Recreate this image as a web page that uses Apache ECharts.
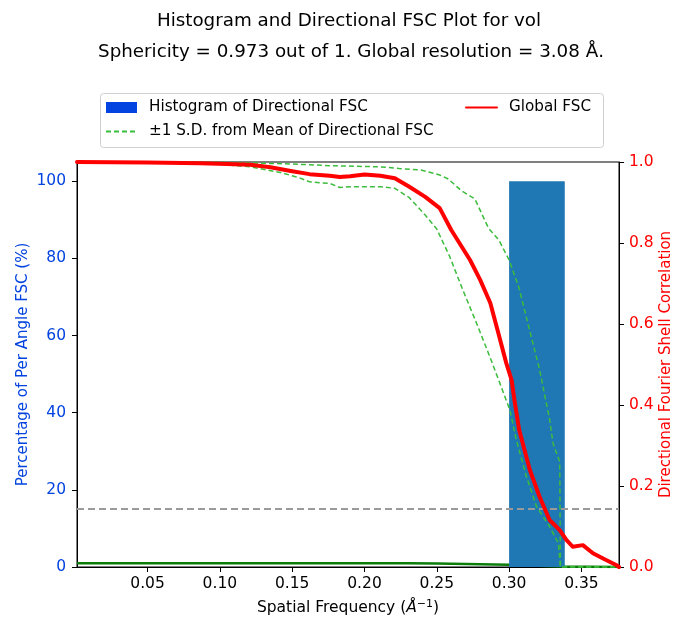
<!DOCTYPE html>
<html><head><meta charset="utf-8">
<script src="https://cdn.jsdelivr.net/npm/echarts@6/dist/echarts.min.js"></script>
<style>html,body{margin:0;padding:0;background:#fff}#c{width:673px;height:621px}</style>
</head><body><div id="c"></div>
<script>
const titleLines = ['Histogram and Directional FSC Plot for vol',
  'Sphericity = 0.973 out of 1. Global resolution = 3.08 \u00c5.'];
const xTicks = [0.05, 0.10, 0.15, 0.20, 0.25, 0.30, 0.35];
const leftTicks = [0, 20, 40, 60, 80, 100];
const rightTicks = [0, 0.2, 0.4, 0.6, 0.8, 1.0];
const xRange = [0.0012, 0.376];
const leftRange = [0, 105];
const rightRange = [0, 1];
const histEdges = [0.300, 0.3385];
const histCounts = [100];
const fscThreshold = 0.143;
const globalFSC = [
  [0.0012,1.0],[0.05,0.999],[0.0864,0.997],[0.105,0.995],[0.121,0.993],[0.135,0.987],
  [0.149,0.978],[0.162,0.970],[0.176,0.966],[0.183,0.963],[0.190,0.965],[0.200,0.969],
  [0.211,0.966],[0.221,0.960],[0.231,0.939],[0.242,0.914],[0.252,0.886],[0.260,0.832],
  [0.273,0.758],[0.280,0.709],[0.287,0.652],[0.292,0.585],[0.298,0.504],[0.3017,0.462],
  [0.304,0.405],[0.307,0.338],[0.3143,0.240],[0.321,0.174],[0.328,0.116],[0.335,0.091],
  [0.3396,0.067],[0.344,0.050],[0.351,0.054],[0.358,0.034],[0.365,0.021],[0.374,0.005],[0.376,0.0]
];
const sdUpper = [
  [0.0012,1.0],[0.0864,1.0],[0.12,0.998],[0.15,0.995],[0.176,0.991],[0.211,0.988],
  [0.224,0.984],[0.239,0.980],[0.252,0.968],[0.258,0.958],[0.267,0.929],[0.2763,0.909],
  [0.2857,0.837],[0.293,0.807],[0.300,0.758],[0.3067,0.691],[0.3138,0.590],[0.3209,0.490],
  [0.328,0.365],[0.3304,0.305],[0.335,0.26],[0.3355,0.0],[0.376,0.0]
];
const sdLower = [
  [0.0012,1.0],[0.0864,0.999],[0.121,0.988],[0.142,0.974],[0.155,0.961],[0.162,0.951],
  [0.176,0.947],[0.183,0.937],[0.190,0.939],[0.211,0.939],[0.221,0.935],[0.231,0.912],
  [0.242,0.869],[0.2499,0.835],[0.259,0.766],[0.268,0.684],[0.2775,0.602],[0.2867,0.519],
  [0.2936,0.454],[0.3005,0.388],[0.305,0.314],[0.312,0.223],[0.319,0.149],[0.328,0.10],
  [0.334,0.059],[0.3355,0.0],[0.376,0.0]
];
const meanFSC = [
  [0.0012,1.0],[0.10,1.0],[0.15,0.985],[0.20,0.965],[0.23,0.95],[0.25,0.90],[0.27,0.80],
  [0.29,0.65],[0.30,0.57],[0.32,0.33],[0.335,0.16],[0.3355,0.0],[0.376,0.0]
];

const FONT = 'DejaVu Sans';
const FS = 15.5;
const FS_NAME = 15;
const FS_LEG = 15.2;
const BLUE = '#0343df';
const chart = echarts.init(document.getElementById('c'), null, {renderer: 'canvas'});
const SD_NAME = '\u00b11 S.D. from Mean of Directional FSC';
const HIST_NAME = 'Histogram of Directional FSC';
const legendText = {fontFamily: FONT, fontSize: FS_LEG, color: '#000', lineHeight: 17, padding: [0,0,0,7]};

chart.setOption({
  animation: false,
  backgroundColor: '#fff',
  title: [
    {text: titleLines[0], left: 349, top: 12, textAlign: 'center', padding: 0,
     textStyle: {fontFamily: FONT, fontSize: 18.3, fontWeight: 'normal', color: '#000'}},
    {text: titleLines[1], left: 351, top: 43, textAlign: 'center', padding: 0,
     textStyle: {fontFamily: FONT, fontSize: 18.3, fontWeight: 'normal', color: '#000'}}
  ],
  graphic: [{type: 'rect', left: 100, top: 93, z: -1,
    shape: {width: 503, height: 54, r: 3},
    style: {fill: '#fff', stroke: '#d0d0d0', lineWidth: 1}}],
  legend: [
    {orient: 'vertical', left: 105, top: 99, itemGap: 7, itemWidth: 31, itemHeight: 11, padding: 0,
     textStyle: legendText,
     data: [{name: HIST_NAME, icon: 'rect', itemStyle: {color: BLUE}},
            {name: SD_NAME, itemStyle: {opacity: 0}}]},
    {orient: 'vertical', left: 465, top: 99, itemGap: 7, itemWidth: 31, itemHeight: 11, padding: 0,
     textStyle: legendText,
     data: [{name: 'Global FSC', itemStyle: {opacity: 0}}]}
  ],
  grid: {left: 77, top: 162, width: 542, height: 405, show: true, borderColor: '#000', borderWidth: 1,
         containLabel: false, outerBoundsMode: 'none'},
  xAxis: {
    type: 'value', min: xRange[0], max: xRange[1],
    axisLine: {show: true, lineStyle: {color: '#000'}},
    axisTick: {show: true, length: 5, customValues: xTicks, lineStyle: {color: '#000'}},
    axisLabel: {customValues: xTicks, formatter: v => v.toFixed(2), margin: 9, color: '#000', fontSize: FS, fontFamily: FONT},
    splitLine: {show: false},
    name: '{a|Spatial Frequency (}{b|\u00c5}{c|\u22121}{a|)}',
    nameLocation: 'middle', nameGap: 32, nameMoveOverlap: false,
    nameTextStyle: {fontFamily: FONT, fontSize: FS, color: '#000',
      rich: {a: {fontFamily: FONT, fontSize: FS, color: '#000'},
             b: {fontFamily: FONT, fontSize: FS, fontStyle: 'italic', color: '#000'},
             c: {fontFamily: FONT, fontSize: 11, color: '#000', verticalAlign: 'top', padding: [0,0,7,0]}}}
  },
  yAxis: [
    {type: 'value', position: 'left', min: leftRange[0], max: leftRange[1],
     axisLine: {show: true, lineStyle: {color: '#000'}},
     axisTick: {show: true, length: 5, customValues: leftTicks, lineStyle: {color: '#000'}},
     axisLabel: {customValues: leftTicks, margin: 11, color: BLUE, fontSize: FS, fontFamily: FONT},
     splitLine: {show: false},
     name: 'Percentage of Per Angle FSC (%)', nameLocation: 'middle', nameGap: 46, nameMoveOverlap: false,
     nameTextStyle: {fontFamily: FONT, fontSize: FS_NAME, color: BLUE}},
    {type: 'value', position: 'right', min: rightRange[0], max: rightRange[1],
     axisLine: {show: true, lineStyle: {color: '#000'}},
     axisTick: {show: true, length: 5, customValues: rightTicks, lineStyle: {color: '#000'}},
     axisLabel: {customValues: rightTicks, formatter: v => v.toFixed(1), margin: 10, color: '#ff0000', fontSize: FS, fontFamily: FONT},
     splitLine: {show: false},
     name: 'Directional Fourier Shell Correlation', nameLocation: 'middle', nameGap: 40, nameMoveOverlap: false,
     nameTextStyle: {fontFamily: FONT, fontSize: FS_NAME, color: '#ff0000'}}
  ],
  series: [
    {name: 'Mean of Directional FSC', type: 'line', yAxisIndex: 0, data: meanFSC, symbol: 'none', z: 1,
     lineStyle: {color: '#0a7d0a', width: 2.5}, itemStyle: {color: '#0a7d0a'}, silent: true},
    {name: HIST_NAME, type: 'custom', yAxisIndex: 0, z: 2,
     data: histCounts.map((c, i) => [histEdges[i], histEdges[i + 1], c]),
     encode: {x: [0, 1], y: 2},
     itemStyle: {color: '#1f77b4'},
     renderItem: (params, api) => {
       const p0 = api.coord([api.value(0), api.value(2)]);
       const p1 = api.coord([api.value(1), 0]);
       return {type: 'rect', shape: {x: p0[0], y: p0[1], width: p1[0] - p0[0], height: p1[1] - p0[1]},
               style: {fill: '#1f77b4'}};
     }},
    {name: 'threshold', type: 'line', yAxisIndex: 1, z: 3, symbol: 'none', silent: true,
     data: [[xRange[0], fscThreshold], [xRange[1], fscThreshold]],
     lineStyle: {color: '#9a9a9a', width: 2, type: [7, 4]}},
    {name: SD_NAME, type: 'line', yAxisIndex: 1, z: 4, symbol: 'none', data: sdUpper,
     lineStyle: {color: '#3cbc3c', width: 1.5, type: [5, 3]}, itemStyle: {color: '#3cbc3c'}},
    {name: SD_NAME, type: 'line', yAxisIndex: 1, z: 4, symbol: 'none', data: sdLower,
     lineStyle: {color: '#3cbc3c', width: 1.5, type: [5, 3]}, itemStyle: {color: '#3cbc3c'}},
    {name: 'Global FSC', type: 'line', yAxisIndex: 1, z: 5, symbol: 'none', data: globalFSC,
     lineStyle: {color: '#ff0000', width: 4, join: 'round', cap: 'round'}, itemStyle: {color: '#ff0000'}}
  ]
});
</script>
</body></html>
